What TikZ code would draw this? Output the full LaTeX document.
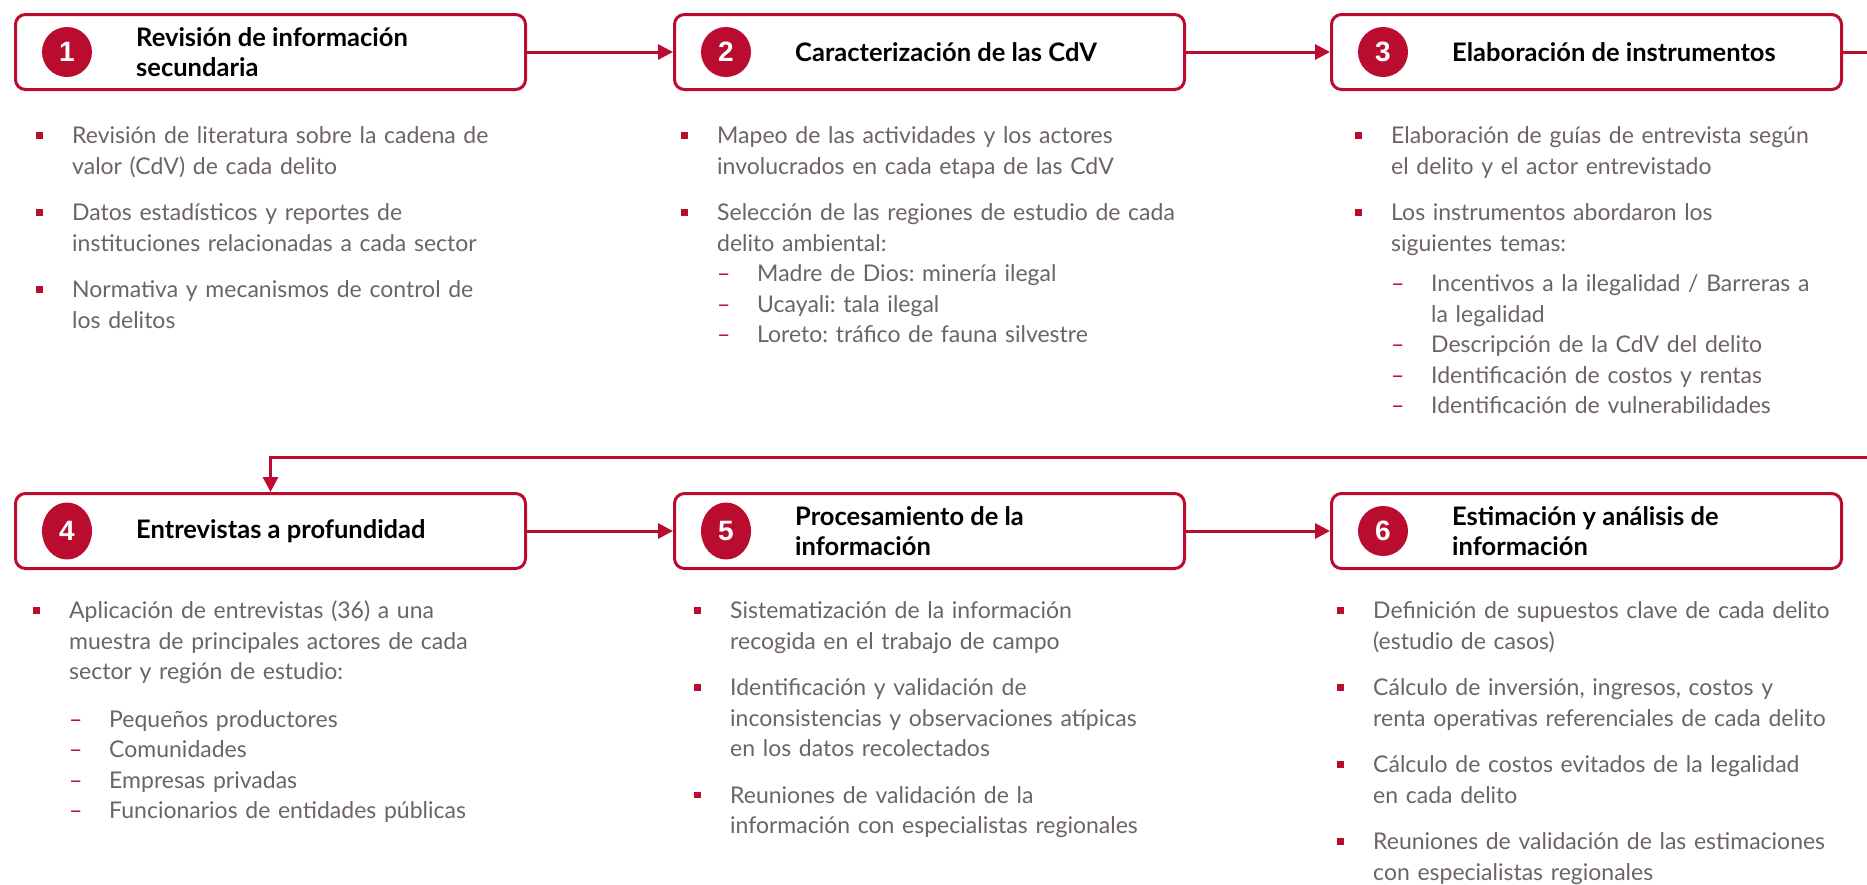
\documentclass[tikz,border=0pt]{standalone}
\usepackage{fontspec}
\setmainfont{Lato}
\newfontfamily\numfont{Liberation Sans}
\usetikzlibrary{arrows.meta,shapes.geometric}

\definecolor{cred}{RGB}{186,12,47}
\definecolor{cgray}{RGB}{108,100,98}

\newlength\bulw \setlength\bulw{36pt}
\newlength\dshw \setlength\dshw{40pt}
\newcommand\bitem[1]{\par\begingroup\let\\\newline
  \hangindent\bulw\hangafter1\noindent
  \makebox[\bulw][l]{\textcolor{cred}{\rule[5pt]{6.5pt}{6.5pt}}}#1\par\endgroup}
\newcommand\sitem[1]{\par\begingroup\let\\\newline
  \hangindent\dimexpr\bulw+\dshw\relax\hangafter1\noindent
  \hspace*{\bulw}\makebox[\dshw][l]{\textcolor{cred}{–}}#1\par\endgroup}

\tikzset{
  stepbox/.style={draw=cred, line width=3pt, rounded corners=10pt, anchor=north west,
    minimum width=510pt, minimum height=75pt, inner sep=0pt},
  num/.style={circle, fill=cred, minimum size=50pt, inner sep=0pt, text=white,
    font=\numfont\bfseries\fontsize{28}{28}\selectfont},
  numtall/.style={num, ellipse, minimum width=50pt, minimum height=57pt},
  title/.style={anchor=west, inner sep=0pt, align=left,
    font=\fontsize{25.5}{30}\selectfont\bfseries},
  body/.style={anchor=base west, inner sep=0pt, text width=540pt, text=cgray,
    font=\fontsize{23}{30.5}\selectfont\raggedright\frenchspacing},
  flow/.style={draw=cred, line width=3pt, -{Triangle[length=15pt,width=15pt]}}
}

\begin{document}
\begin{tikzpicture}[x=1pt,y=-1pt]
\useasboundingbox (0,0) rectangle (1867,884);

\node[stepbox] (b1) at (14,13) {};
\node[stepbox] (b2) at (673,13) {};
\node[stepbox] (b3) at (1330,13) {};
\node[stepbox] (b4) at (14,492) {};
\node[stepbox] (b5) at (673,492) {};
\node[stepbox] (b6) at (1330,492) {};

\node[num] (n1) at ([xshift=53pt]b1.west) {1};
\node[num] (n2) at ([xshift=53pt]b2.west) {2};
\node[num] (n3) at ([xshift=53pt]b3.west) {3};
\node[numtall] (n4) at ([xshift=53pt]b4.west) {4};
\node[numtall] (n5) at ([xshift=53pt]b5.west) {5};
\node[num] (n6) at ([xshift=53pt]b6.west) {6};

\node[title] (t1) at ([xshift=122pt]b1.west) {Revisión de información\\secundaria};
\node[title] (t2) at ([xshift=122pt]b2.west) {Caracterización de las CdV};
\node[title] (t3) at ([xshift=122pt]b3.west) {Elaboración de instrumentos};
\node[title] (t4) at ([xshift=122pt]b4.west) {Entrevistas a profundidad};
\node[title] (t5) at ([xshift=122pt]b5.west) {Procesamiento de la\\información};
\node[title] (t6) at ([xshift=122pt]b6.west) {Estimación y análisis de\\información};

\coordinate (turn) at (1900,457);
\draw[flow] (b1) -- (b2);
\draw[flow] (b2) -- (b3);
\draw[flow] (b3.east) -| (turn) -| (b4.north);
\draw[flow] (b4) -- (b5);
\draw[flow] (b5) -- (b6);

\node[body] (d1) at (36,113) {%
  \bitem{Revisión de literatura sobre la cadena de\\valor (CdV) de cada delito}
  \vspace{16pt}
  \bitem{Datos estadísticos y reportes de\\instituciones relacionadas a cada sector}
  \vspace{16pt}
  \bitem{Normativa y mecanismos de control de\\los delitos}};

\node[body] (d2) at (681,113) {%
  \bitem{Mapeo de las actividades y los actores\\involucrados en cada etapa de las CdV}
  \vspace{16pt}
  \bitem{Selección de las regiones de estudio de cada\\delito ambiental:}
  \sitem{Madre de Dios: minería ilegal}
  \sitem{Ucayali: tala ilegal}
  \sitem{Loreto: tráfico de fauna silvestre}};

\node[body] (d3) at (1355,113) {%
  \bitem{Elaboración de guías de entrevista según\\el delito y el actor entrevistado}
  \vspace{16pt}
  \bitem{Los instrumentos abordaron los\\siguientes temas:}
  \vspace{10pt}
  \sitem{Incentivos a la ilegalidad / Barreras a\\la legalidad}
  \sitem{Descripción de la CdV del delito}
  \sitem{Identificación de costos y rentas}
  \sitem{Identificación de vulnerabilidades}};

\node[body] (d4) at (33,588) {%
  \bitem{Aplicación de entrevistas (36) a una\\muestra de principales actores de cada\\sector y región de estudio:}
  \vspace{17pt}
  \sitem{Pequeños productores}
  \sitem{Comunidades}
  \sitem{Empresas privadas}
  \sitem{Funcionarios de entidades públicas}};

\node[body] (d5) at (694,588) {%
  \bitem{Sistematización de la información\\recogida en el trabajo de campo}
  \vspace{16pt}
  \bitem{Identificación y validación de\\inconsistencias y observaciones atípicas\\en los datos recolectados}
  \vspace{16pt}
  \bitem{Reuniones de validación de la\\información con especialistas regionales}};

\node[body] (d6) at (1337,588) {%
  \bitem{Definición de supuestos clave de cada delito\\(estudio de casos)}
  \vspace{16pt}
  \bitem{Cálculo de inversión, ingresos, costos y\\renta operativas referenciales de cada delito}
  \vspace{16pt}
  \bitem{Cálculo de costos evitados de la legalidad\\en cada delito}
  \vspace{16pt}
  \bitem{Reuniones de validación de las estimaciones\\con especialistas regionales}};

\end{tikzpicture}
\end{document}
